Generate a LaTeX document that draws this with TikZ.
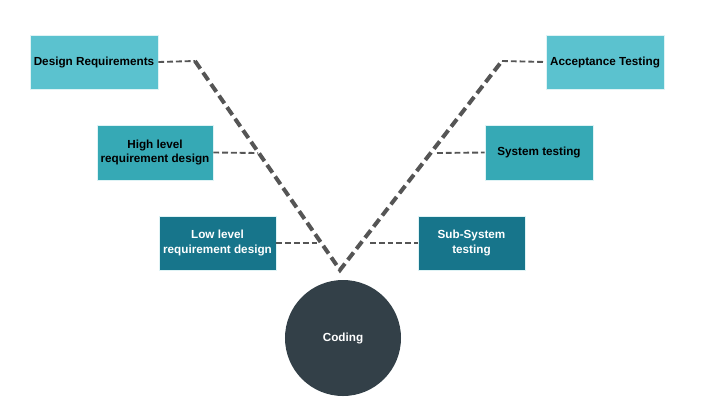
\documentclass[tikz,border=0pt]{standalone}
\usepackage{fontspec}
\setmainfont{Liberation Sans}
\definecolor{lightteal}{HTML}{5BC2CF}
\definecolor{midteal}{HTML}{36A9B5}
\definecolor{darkteal}{HTML}{17758B}
\definecolor{coal}{HTML}{334048}
\definecolor{linegray}{HTML}{555555}
\tikzset{
	stage/.style={rectangle, draw=white!80!lightteal, line width=.6pt, inner sep=1pt,
		align=center, font=\bfseries\fontsize{10}{12}\selectfont},
	vline/.style={draw=linegray, line width=3.4pt, dash pattern=on 8pt off 4pt},
	tap/.style={draw=linegray, line width=1.6pt, dash pattern=on 5pt off 2.5pt}
}
\begin{document}
\begin{tikzpicture}[x=.03cm,y=-.03cm]
		\useasboundingbox (0,0) rectangle (719,412);
		% left arm
		\node[stage, fill=lightteal, minimum width=3.84cm, minimum height=1.62cm] (dreq) at (94,62) {Design Requirements};
		\node[stage, fill=midteal, minimum width=3.48cm, minimum height=1.65cm] (hld) at (155,152.5) {High level\\requirement design};
		\node[stage, fill=darkteal, text=white, minimum width=3.51cm, minimum height=1.62cm] (lld) at (217.5,243) {Low level\\requirement design};
		% right arm
		\node[stage, fill=lightteal, minimum width=3.54cm, minimum height=1.62cm] (acc) at (605,62) {Acceptance Testing};
		\node[stage, fill=midteal, minimum width=3.24cm, minimum height=1.65cm] (sys) at (539,152.5) {System testing};
		\node[stage, fill=darkteal, text=white, minimum width=3.21cm, minimum height=1.62cm] (sub) at (471.5,243) {Sub-System\\testing};
		% bottom
		\node[circle, fill=coal, text=white, minimum size=3.48cm, font=\bfseries\fontsize{10}{12}\selectfont] (code) at (343,338) {Coding};
		\coordinate (tl) at (195,61);
		\coordinate (v) at (340,270);
		\coordinate (tr) at (502,61);
		\coordinate (hl) at (258,153);
		\coordinate (ll) at (320,243);
		\coordinate (sr) at (437,153);
		\coordinate (ssr) at (370,243);
		\draw[vline] (tl)--(v)--(tr);
		\draw[tap] (dreq.east)--(tl);
		\draw[tap] (hld.east)--(hl);
		\draw[tap] (lld.east)--(ll);
		\draw[tap] (tr)--(acc.west);
		\draw[tap] (sr)--(sys.west);
		\draw[tap] (ssr)--(sub.west);
	\end{tikzpicture}
\end{document}
